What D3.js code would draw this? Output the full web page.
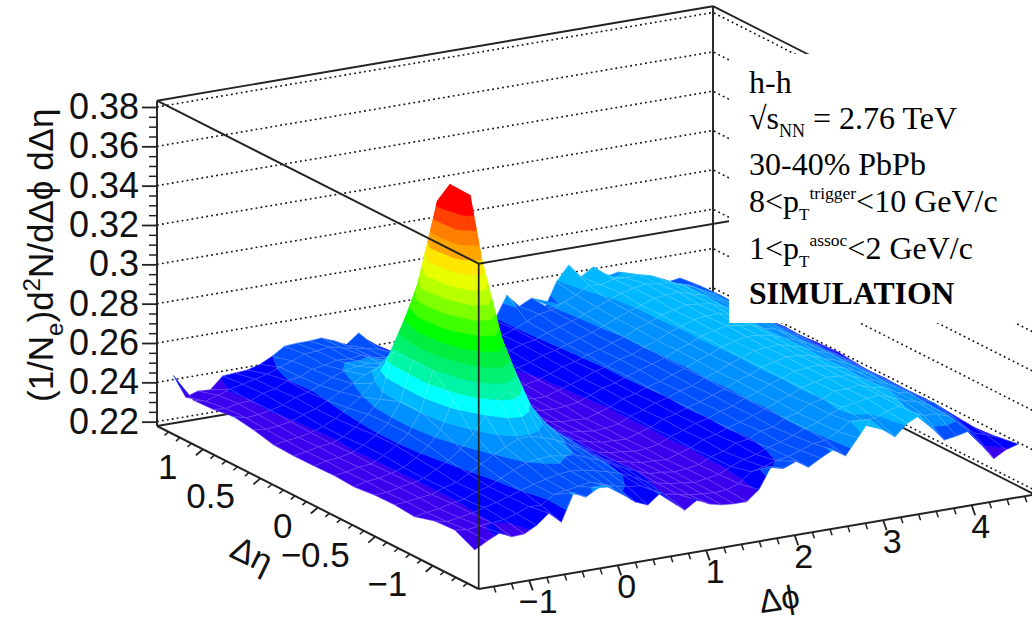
<!DOCTYPE html>
<html>
<head>
<meta charset="utf-8">
<script src="https://cdn.jsdelivr.net/npm/d3@7"></script>
<style>
  html, body { margin: 0; padding: 0; background: #fff; overflow: hidden; }
  svg { display: block; }
</style>
</head>
<body>
<script>
const w = 1032;
const h = 621;

const phiRange = [-Math.PI / 2, 3 * Math.PI / 2];
const etaRange = [-1.4, 1.4];
const zRange = [0.2178, 0.3832];

const phiTicks = [-1, 0, 1, 2, 3, 4];
const phiMinor = [-1.4, -1.2, -0.8, -0.6, -0.4, -0.2, 0.2, 0.4, 0.6, 0.8, 1.2, 1.4, 1.6, 1.8, 2.2, 2.4, 2.6, 2.8, 3.2, 3.4, 3.6, 3.8, 4.2, 4.4, 4.6];
const etaTicks = [-1, -0.5, 0, 0.5, 1];
const etaMinor = [-1.3, -1.2, -1.1, -0.9, -0.8, -0.7, -0.6, -0.4, -0.3, -0.2, -0.1, 0.1, 0.2, 0.3, 0.4, 0.6, 0.7, 0.8, 0.9, 1.1, 1.2, 1.3];
const zTicks = [0.22, 0.24, 0.26, 0.28, 0.3, 0.32, 0.34, 0.36, 0.38];
const zMinor = [0.225, 0.23, 0.235, 0.245, 0.25, 0.255, 0.265, 0.27, 0.275, 0.285, 0.29, 0.295, 0.305, 0.31, 0.315, 0.325, 0.33, 0.335, 0.345, 0.35, 0.355, 0.365, 0.37, 0.375];

// contour levels of the surface, and one colour per band
const bandLevels = [.2400, .2469, .2538, .2607, .2676, .2745, .2814, .2883, .2952, .3021, .3090, .3159, .3228, .3297, .3366, .3435, .3504, .3573];
const bandColors = ["#3a00ee", "#0000ff", "#0050ff", "#0090ff", "#00b8ff", "#00ffff", "#00f5a8", "#00f070", "#00ee40", "#00ff00",
                    "#40ff00", "#80ff00", "#b8ff00", "#e8ff00", "#ffe600", "#ffa500", "#ff7f00", "#ff4000", "#ff0000"];

// surface heights: one row per eta bin (front to back), 45 phi bins each
const zRows = [
  [.2345,.2380,.2410,.2380,.2384,.2417,.2468,.2412,.2549,.2518,.2554,.2549,.2498,.2450,.2424,.2473,.2417,.2366,.2407,.2376,.2361,.2356,.2356,.2407,.2513,.2493,.2518,.2478,.2513,.2544,.2503,.2584,.2666,.2605,.2556,.2615,.2645,.2569,.2498,.2508,.2523,.2442,.2361,.2396,.2414],
  [.2395,.2385,.2395,.2400,.2405,.2425,.2450,.2445,.2490,.2500,.2510,.2520,.2500,.2480,.2465,.2460,.2430,.2395,.2385,.2370,.2365,.2360,.2365,.2385,.2435,.2450,.2470,.2480,.2500,.2525,.2530,.2565,.2605,.2600,.2600,.2625,.2640,.2600,.2570,.2570,.2545,.2490,.2440,.2420,.2396],
  [.2389,.2375,.2385,.2395,.2415,.2430,.2450,.2470,.2490,.2505,.2520,.2525,.2520,.2505,.2490,.2470,.2445,.2410,.2390,.2375,.2370,.2360,.2370,.2380,.2410,.2435,.2450,.2475,.2490,.2515,.2540,.2560,.2590,.2615,.2625,.2640,.2645,.2620,.2595,.2580,.2550,.2510,.2470,.2430,.2381],
  [.2359,.2370,.2378,.2395,.2405,.2432,.2448,.2480,.2510,.2535,.2545,.2550,.2540,.2535,.2510,.2485,.2455,.2425,.2398,.2375,.2372,.2362,.2368,.2378,.2408,.2425,.2455,.2465,.2495,.2505,.2540,.2555,.2590,.2605,.2635,.2635,.2645,.2620,.2610,.2575,.2560,.2515,.2490,.2440,.2386],
  [.2368,.2372,.2382,.2388,.2412,.2428,.2462,.2500,.2535,.2565,.2595,.2600,.2580,.2560,.2530,.2495,.2455,.2418,.2395,.2382,.2368,.2367,.2362,.2382,.2402,.2432,.2448,.2472,.2488,.2512,.2533,.2562,.2583,.2612,.2628,.2642,.2638,.2628,.2602,.2582,.2553,.2522,.2483,.2447,.2381],
  [.2366,.2368,.2382,.2392,.2408,.2442,.2478,.2525,.2590,.2675,.2755,.2775,.2720,.2635,.2570,.2515,.2470,.2425,.2392,.2378,.2372,.2363,.2367,.2378,.2407,.2428,.2452,.2468,.2492,.2508,.2537,.2558,.2587,.2608,.2632,.2638,.2642,.2623,.2607,.2578,.2557,.2518,.2487,.2443,.2389],
  [.2355,.2372,.2378,.2392,.2412,.2450,.2500,.2570,.2710,.2885,.3055,.3105,.2970,.2805,.2640,.2545,.2480,.2430,.2398,.2382,.2368,.2366,.2363,.2382,.2403,.2432,.2448,.2472,.2488,.2512,.2533,.2562,.2583,.2612,.2628,.2642,.2638,.2627,.2603,.2582,.2553,.2522,.2483,.2447,.2386],
  [.2361,.2368,.2382,.2388,.2420,.2460,.2510,.2610,.2810,.3115,.3505,.3669,.3320,.3010,.2710,.2565,.2490,.2440,.2400,.2378,.2372,.2363,.2367,.2378,.2407,.2428,.2452,.2468,.2492,.2508,.2537,.2558,.2587,.2608,.2632,.2638,.2642,.2623,.2607,.2578,.2557,.2518,.2487,.2443,.2396],
  [.2358,.2372,.2378,.2392,.2420,.2460,.2510,.2610,.2810,.3210,.3600,.3672,.3325,.2935,.2710,.2565,.2490,.2440,.2395,.2382,.2368,.2367,.2363,.2382,.2403,.2432,.2448,.2472,.2488,.2512,.2533,.2562,.2583,.2612,.2628,.2642,.2638,.2627,.2603,.2582,.2553,.2522,.2483,.2447,.2407],
  [.2357,.2368,.2382,.2388,.2412,.2450,.2505,.2570,.2800,.2960,.3120,.3300,.3050,.2810,.2640,.2545,.2480,.2432,.2400,.2385,.2375,.2370,.2375,.2385,.2410,.2435,.2450,.2475,.2495,.2515,.2535,.2565,.2585,.2615,.2630,.2645,.2635,.2630,.2600,.2585,.2550,.2525,.2480,.2450,.2417],
  [.2361,.2372,.2378,.2392,.2412,.2442,.2485,.2530,.2590,.2675,.2755,.2775,.2725,.2640,.2570,.2520,.2475,.2430,.2402,.2382,.2380,.2372,.2372,.2392,.2412,.2432,.2458,.2472,.2498,.2512,.2540,.2562,.2590,.2612,.2635,.2642,.2645,.2628,.2610,.2582,.2560,.2520,.2490,.2445,.2412],
  [.2386,.2378,.2385,.2395,.2420,.2440,.2470,.2505,.2535,.2570,.2595,.2605,.2585,.2565,.2535,.2500,.2465,.2430,.2405,.2392,.2382,.2378,.2380,.2395,.2415,.2440,.2455,.2478,.2495,.2518,.2538,.2568,.2590,.2618,.2632,.2648,.2640,.2632,.2608,.2590,.2555,.2530,.2485,.2450,.2404],
  [.2402,.2385,.2390,.2402,.2418,.2445,.2462,.2485,.2515,.2540,.2550,.2555,.2545,.2540,.2515,.2490,.2465,.2435,.2415,.2400,.2392,.2388,.2392,.2405,.2420,.2445,.2460,.2480,.2500,.2520,.2545,.2570,.2595,.2615,.2640,.2645,.2650,.2630,.2615,.2585,.2560,.2525,.2490,.2440,.2381],
  [.2386,.2380,.2395,.2398,.2425,.2438,.2468,.2478,.2505,.2515,.2530,.2525,.2535,.2510,.2500,.2505,.2470,.2440,.2420,.2405,.2400,.2395,.2402,.2410,.2430,.2450,.2462,.2488,.2505,.2525,.2550,.2575,.2600,.2625,.2640,.2650,.2640,.2635,.2610,.2590,.2555,.2530,.2480,.2420,.2356],
  [.2381,.2365,.2385,.2405,.2420,.2435,.2450,.2475,.2495,.2520,.2525,.2535,.2520,.2505,.2495,.2480,.2460,.2430,.2410,.2400,.2405,.2410,.2415,.2425,.2440,.2445,.2465,.2495,.2520,.2530,.2560,.2585,.2625,.2615,.2635,.2630,.2635,.2620,.2590,.2560,.2540,.2525,.2460,.2400,.2346],
  [.2457,.2335,.2355,.2351,.2410,.2415,.2419,.2437,.2468,.2508,.2513,.2513,.2518,.2493,.2462,.2511,.2450,.2391,.2366,.2385,.2390,.2395,.2400,.2410,.2420,.2440,.2458,.2576,.2508,.2539,.2468,.2600,.2676,.2605,.2645,.2584,.2597,.2564,.2529,.2508,.2503,.2513,.2452,.2396,.2396]
];

const nEta = zRows.length;
const nPhi = zRows[0].length;
const phiBin = (phiRange[1] - phiRange[0]) / nPhi;
const etaBin = (etaRange[1] - etaRange[0]) / nEta;

const lineColor = "#222";
const sansFont = "'Liberation Sans', Arial, sans-serif";
const serifFont = "'Liberation Serif', 'Times New Roman', serif";

// oblique box: the three axes as screen offsets from the front corner
const corner = {x: 478.7, y: 589};
const phiVec = {x: 556, y: -94.5};
const etaVec = {x: -321.7, y: -163};

const phiScale = d3.scaleLinear().domain(phiRange).range([0, 1]);
const etaScale = d3.scaleLinear().domain(etaRange).range([0, 1]);
const zScale = d3.scaleLinear().domain(zRange).range([426, 100.7]);

const project = function(phi, eta, z) {
  const a = phiScale(phi);
  const b = etaScale(eta);
  return [
    corner.x + a * phiVec.x + b * etaVec.x,
    corner.y + a * phiVec.y + b * etaVec.y - (zScale(zRange[0]) - zScale(z))
  ];
};

const svg = d3.select("body")
              .append("svg")
              .attr("width", w)
              .attr("height", h);

const line = d3.line();
const closedLine = d3.line().curve(d3.curveLinearClosed);

const drawEdge = function(group, a, b, width) {
  group.append("path")
       .attr("d", line([project(...a), project(...b)]))
       .attr("fill", "none")
       .attr("stroke", lineColor)
       .attr("stroke-width", width || 1.9);
};

const [pMin, pMax] = phiRange;
const [eMin, eMax] = etaRange;
const [zMin, zMax] = zRange;

// back walls
const walls = svg.append("g");
zTicks.forEach(function(t) {
  walls.append("path")
       .attr("d", line([project(pMin, eMax, t), project(pMax, eMax, t), project(pMax, eMin, t)]))
       .attr("fill", "none")
       .attr("stroke", "#111")
       .attr("stroke-width", 1.6)
       .attr("stroke-dasharray", "1.8 3.2");
});
drawEdge(walls, [pMin, eMax, zMin], [pMax, eMax, zMin]);
drawEdge(walls, [pMax, eMax, zMin], [pMax, eMin, zMin]);
drawEdge(walls, [pMin, eMax, zMax], [pMax, eMax, zMax]);
drawEdge(walls, [pMax, eMax, zMax], [pMax, eMin, zMax]);
drawEdge(walls, [pMax, eMax, zMin], [pMax, eMax, zMax]);

// keep the part of a polygon with z above (sign 1) or below (sign -1) a level
const clipZ = function(poly, level, sign) {
  const out = [];
  poly.forEach(function(p, k) {
    const q = poly[(k + 1) % poly.length];
    const dp = sign * (p[2] - level);
    const dq = sign * (q[2] - level);
    if (dp >= 0) out.push(p);
    if ((dp >= 0) !== (dq >= 0)) {
      const t = dp / (dp - dq);
      out.push([p[0] + t * (q[0] - p[0]), p[1] + t * (q[1] - p[1]), level]);
    }
  });
  return out;
};

// painter's order, far corner first
const surfacePieces = [];
const meshTopZ = 0.285;
const vertex = function(i, j) {
  return [pMin + (i + 0.5) * phiBin, eMin + (j + 0.5) * etaBin, zRows[j][i]];
};
const bandEdges = [-Infinity].concat(bandLevels, [Infinity]);
for (let j = nEta - 2; j >= 0; j--) {
  for (let i = nPhi - 2; i >= 0; i--) {
    const quad = [vertex(i, j), vertex(i + 1, j), vertex(i + 1, j + 1), vertex(i, j + 1)];
    bandColors.forEach(function(color, b) {
      let piece = clipZ(quad, bandEdges[b], 1);
      if (piece.length) piece = clipZ(piece, bandEdges[b + 1], -1);
      if (piece.length > 2) {
        surfacePieces.push({pts: piece, fill: color, stroke: color, sw: 0.5, op: 1});
      }
    });
    if (d3.max(quad, p => p[2]) < meshTopZ) {
      surfacePieces.push({pts: quad, fill: "none", stroke: "#fff", sw: 0.6, op: 0.26});
    }
  }
}

svg.append("g")
   .attr("class", "surface")
   .selectAll("path")
   .data(surfacePieces)
   .join("path")
   .attr("d", d => closedLine(d.pts.map(p => project(...p))))
   .attr("fill", d => d.fill)
   .attr("stroke", d => d.stroke)
   .attr("stroke-width", d => d.sw)
   .attr("stroke-opacity", d => d.op)
   .attr("stroke-linejoin", "round");

// front edges of the box
const front = svg.append("g");
drawEdge(front, [pMin, eMax, zMax], [pMin, eMin, zMax]);
drawEdge(front, [pMin, eMin, zMax], [pMax, eMin, zMax]);
drawEdge(front, [pMin, eMin, zMin], [pMin, eMin, zMax], 1.7);
drawEdge(front, [pMin, eMax, zMin], [pMin, eMax, zMax]);
drawEdge(front, [pMin, eMax, zMin], [pMin, eMin, zMin], 2);
drawEdge(front, [pMin, eMin, zMin], [pMax, eMin, zMin], 2);

// z axis
const zAxisX = project(pMin, eMax, zMin)[0];
const zAxis = svg.append("g").attr("transform", "translate(" + zAxisX + ",0)");
zAxis.call(d3.axisLeft(zScale).tickValues(zTicks).tickSize(15).tickSizeOuter(0).tickPadding(3).tickFormat(d3.format("~g")));
zAxis.select(".domain").remove();
zAxis.selectAll("line").attr("stroke", lineColor).attr("stroke-width", 1.8);
zAxis.selectAll("text").attr("font-family", sansFont).attr("font-size", 36).attr("fill", "#111");
const zAxisMinor = svg.append("g").attr("transform", "translate(" + zAxisX + ",0)");
zAxisMinor.call(d3.axisLeft(zScale).tickValues(zMinor).tickSize(8).tickSizeOuter(0).tickFormat(""));
zAxisMinor.select(".domain").remove();
zAxisMinor.selectAll("line").attr("stroke", lineColor).attr("stroke-width", 1.5);

// slanted axes
const slantTicks = function(values, toPoint, dx, dy, width) {
  svg.append("g")
     .selectAll("path")
     .data(values)
     .join("path")
     .attr("d", d => {
       const p = toPoint(d);
       return line([p, [p[0] + dx, p[1] + dy]]);
     })
     .attr("fill", "none")
     .attr("stroke", lineColor)
     .attr("stroke-width", width);
};
const onEtaAxis = d => project(pMin, d, zMin);
const onPhiAxis = d => project(d, eMin, zMin);
slantTicks(etaTicks, onEtaAxis, -7, 6, 1.8);
slantTicks(etaMinor, onEtaAxis, -4, 3.5, 1.5);
slantTicks(phiTicks, onPhiAxis, 3.5, 10, 1.8);
slantTicks(phiMinor, onPhiAxis, 2, 6, 1.5);

const tickLabel = function(value) {
  return String(value).replace("-", "\u2212");
};
const etaLabelOffset = {x: -25.5, y: 30};
const phiLabelOffset = {x: 9, y: 33};
svg.append("g")
   .selectAll("text")
   .data(etaTicks)
   .join("text")
   .attr("x", d => onEtaAxis(d)[0] + etaLabelOffset.x)
   .attr("y", d => onEtaAxis(d)[1] + etaLabelOffset.y)
   .attr("text-anchor", "end")
   .attr("font-family", sansFont)
   .attr("font-size", 35)
   .attr("fill", "#111")
   .text(tickLabel);
svg.append("g")
   .selectAll("text")
   .data(phiTicks)
   .join("text")
   .attr("x", d => onPhiAxis(d)[0] + phiLabelOffset.x)
   .attr("y", d => onPhiAxis(d)[1] + phiLabelOffset.y)
   .attr("text-anchor", "middle")
   .attr("font-family", sansFont)
   .attr("font-size", 34)
   .attr("fill", "#111")
   .text(tickLabel);

// axis titles
svg.append("text")
   .attr("transform", "translate(781,610) rotate(-9)")
   .attr("text-anchor", "middle")
   .attr("font-family", sansFont)
   .attr("font-size", 33)
   .attr("fill", "#111")
   .text("\u0394\u03d5");
svg.append("text")
   .attr("transform", "translate(228,556) rotate(26)")
   .attr("font-family", sansFont)
   .attr("font-size", 34)
   .attr("fill", "#111")
   .text("\u0394\u03b7");

const zTitle = svg.append("text")
   .attr("transform", "translate(53,402) rotate(-90)")
   .attr("font-family", sansFont)
   .attr("font-size", 35)
   .attr("fill", "#111");
zTitle.append("tspan").text("(1/N");
zTitle.append("tspan").attr("font-size", 24).attr("dy", 10).text("e");
zTitle.append("tspan").attr("dy", -10).text(")d");
zTitle.append("tspan").attr("font-size", 24).attr("dy", -13).text("2");
zTitle.append("tspan").attr("dy", 13).text("N/d\u0394\u03d5 d\u0394\u03b7");

// white note box
svg.append("rect")
   .attr("x", 729)
   .attr("y", 54)
   .attr("width", w - 729)
   .attr("height", 269)
   .attr("fill", "#fff");

const noteX = 749;
const noteSize = 32;
const note = function(y, weight) {
  return svg.append("text")
            .attr("x", noteX)
            .attr("y", y)
            .attr("font-family", serifFont)
            .attr("font-size", noteSize)
            .attr("font-weight", weight || "normal")
            .attr("fill", "#000");
};
note(93).text("h-h");
const line2 = note(129);
line2.append("tspan").text("\u221as");
line2.append("tspan").attr("font-size", 18).attr("dy", 8).text("NN");
line2.append("tspan").attr("dy", -8).text(" = 2.76 TeV");
note(175).text("30-40% PbPb");
const line4 = note(212);
line4.append("tspan").text("8<p");
line4.append("tspan").attr("font-size", 17).attr("dy", 8).text("T");
line4.append("tspan").attr("font-size", 17.5).attr("dy", -21).text("trigger");
line4.append("tspan").attr("dy", 13).text("<10 GeV/c");
const line5 = note(259);
line5.append("tspan").text("1<p");
line5.append("tspan").attr("font-size", 17).attr("dy", 8).text("T");
line5.append("tspan").attr("font-size", 17.5).attr("dy", -21).text("assoc");
line5.append("tspan").attr("dy", 13).text("<2 GeV/c");
note(304, "bold").attr("font-size", 31.7).text("SIMULATION");
</script>
</body>
</html>
